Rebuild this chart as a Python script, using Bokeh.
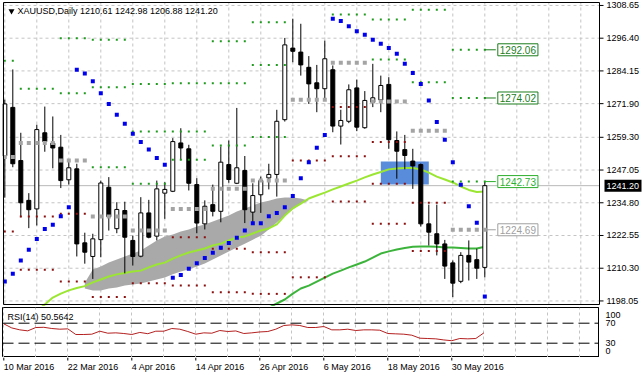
import numpy as np
from bokeh.plotting import figure
from bokeh.models import Range1d, FixedTicker, Span, Label
from bokeh.layouts import column
from bokeh.embed import file_html
from bokeh.resources import INLINE
from bokeh.core.properties import value

# ---------------- data ----------------
opens = [1252.4, 1270.5, 1250.6, 1235.7, 1232.5, 1261.0, 1257.1, 1255.6, 1243.4, 1247.5,
         1219.8, 1214.7, 1221.0, 1240.6, 1225.1, 1231.9, 1220.7, 1214.8, 1231.0, 1222.3,
         1238.4, 1239.1, 1257.2, 1255.0, 1241.6, 1226.9, 1234.1, 1231.6, 1249.1, 1242.1,
         1246.9, 1231.3, 1237.8, 1244.1, 1245.4, 1265.9, 1292.7, 1291.2, 1285.5, 1279.7,
         1277.5, 1284.6, 1263.5, 1265.3, 1277.8, 1262.9, 1272.4, 1273.3, 1279.1, 1258.1,
         1254.7, 1250.4, 1249.1, 1226.9, 1223.2, 1219.4, 1212.3, 1205.4, 1215.1, 1213.5,
         1210.61]
highs = [1273.4, 1284.7, 1261.0, 1238.4, 1264.0, 1270.8, 1267.1, 1260.2, 1250.4, 1249.4,
         1223.6, 1223.2, 1243.1, 1244.4, 1235.0, 1235.2, 1222.5, 1236.9, 1235.9, 1243.1,
         1242.5, 1259.0, 1262.7, 1256.5, 1244.0, 1235.7, 1241.6, 1255.9, 1258.1, 1270.3,
         1252.3, 1242.1, 1244.6, 1249.4, 1269.6, 1296.5, 1303.7, 1301.8, 1289.7, 1286.4,
         1295.5, 1286.2, 1269.6, 1279.1, 1280.9, 1276.6, 1286.8, 1282.4, 1281.8, 1261.5,
         1260.2, 1255.0, 1249.5, 1234.1, 1234.1, 1220.9, 1213.2, 1216.3, 1220.7, 1217.6,
         1242.98]
lows = [1236.7, 1248.1, 1229.4, 1225.3, 1226.3, 1253.9, 1247.7, 1240.3, 1241.6, 1214.7,
        1212.0, 1206.3, 1214.4, 1224.4, 1223.4, 1208.4, 1211.3, 1214.4, 1221.5, 1220.7,
        1228.8, 1238.8, 1250.8, 1239.4, 1223.4, 1224.8, 1229.7, 1227.5, 1242.3, 1241.8,
        1227.2, 1227.3, 1231.0, 1239.8, 1237.1, 1265.2, 1287.4, 1282.4, 1271.8, 1268.7,
        1273.3, 1261.2, 1256.6, 1264.6, 1261.6, 1262.5, 1270.6, 1268.7, 1255.0, 1243.8,
        1247.3, 1240.0, 1225.9, 1218.8, 1215.1, 1206.3, 1199.5, 1204.7, 1205.7, 1206.3,
        1206.88]
closes = [1271.8, 1249.4, 1234.8, 1232.2, 1262.2, 1257.7, 1255.3, 1243.1, 1247.9, 1219.4,
          1216.3, 1221.3, 1242.2, 1229.6, 1232.3, 1221.9, 1214.7, 1231.0, 1221.9, 1240.0,
          1239.8, 1257.7, 1255.3, 1242.1, 1227.2, 1233.5, 1231.6, 1250.0, 1243.5, 1247.9,
          1232.2, 1237.5, 1243.1, 1245.4, 1265.3, 1293.9, 1291.5, 1286.4, 1279.3, 1277.5,
          1288.7, 1263.5, 1265.6, 1277.1, 1263.1, 1273.1, 1274.1, 1278.7, 1258.4, 1254.1,
          1252.5, 1248.6, 1226.9, 1223.8, 1219.4, 1211.1, 1204.7, 1215.1, 1212.6, 1210.3,
          1241.20]

# Parabolic SAR
sar = [1205.3, 1208.2, 1213.2, 1217.2, 1221.2, 1225.0, 1226.6, 1229.8, 1233.1, 1284.6,
       1283.2, 1280.3, 1275.8, 1271.8, 1267.7, 1264.4, 1260.6, 1257.5, 1254.7, 1251.6,
       1249.0, 1206.7, 1207.8, 1210.1, 1212.2, 1214.1, 1216.1, 1218.0, 1219.7, 1221.7,
       1224.4, 1227.1, 1227.1, 1229.8, 1231.0, 1233.1, 1237.3, 1244.0, 1250.0, 1255.4,
       1260.2, 1303.7, 1302.8, 1300.9, 1299.0, 1297.7, 1295.8, 1294.3, 1292.7, 1290.6,
       1286.8, 1283.4, 1279.3, 1273.1, 1265.0, 1258.4, 1250.0, 1241.5, 1233.5, 1227.3,
       1199.7]

# moving averages (None = off the chart)
ma_fast = [None, None, None, None, 1194.5, 1196.7, 1199.3, 1200.8, 1202.0, 1202.9,
           1203.6, 1205.0, 1206.1, 1207.2, 1208.0, 1208.5, 1209.1, 1209.4, 1210.6, 1211.7,
           1212.4, 1213.9, 1215.1, 1216.2, 1216.9, 1217.7, 1218.8, 1219.5, 1220.7, 1221.8,
           1222.2, 1223.3, 1224.4, 1225.2, 1226.7, 1230.0, 1232.7, 1234.5, 1236.4, 1237.5,
           1238.6, 1239.8, 1240.9, 1242.0, 1243.1, 1244.3, 1245.4, 1246.3, 1247.3, 1247.6,
           1247.8, 1247.8, 1247.3, 1246.1, 1244.6, 1243.5, 1242.4, 1240.9, 1239.6, 1238.8,
           1239.0]
ma_slow = [None] * 33 + [1195.5, 1197.1, 1198.6, 1200.8, 1202.7, 1203.8, 1205.3,
           1206.8, 1208.3, 1209.4, 1210.6, 1211.7, 1212.8, 1214.3, 1215.8, 1216.6, 1217.3,
           1217.9, 1218.3, 1218.4, 1218.4, 1218.3, 1218.1, 1218.1, 1217.9, 1217.7, 1217.7,
           1218.3]

# grey band (index 10 .. 38)
band_start = 10
band_upper = [1204.9, 1209.8, 1210.9, 1212.4, 1213.6, 1214.7, 1215.8, 1216.9, 1218.8, 1220.7,
              1222.2, 1222.9, 1224.0, 1224.8, 1225.9, 1226.7, 1227.8, 1228.9, 1230.0, 1231.5,
              1232.7, 1233.8, 1234.9, 1235.6, 1236.4, 1236.8, 1236.8, 1236.4, 1235.6]
band_lower = [1202.7, 1202.0, 1202.0, 1202.7, 1203.1, 1203.8, 1204.2, 1204.6, 1205.3, 1206.1,
              1206.8, 1208.0, 1209.1, 1209.8, 1210.9, 1212.1, 1213.6, 1215.1, 1216.6, 1218.1,
              1219.5, 1221.0, 1222.5, 1224.8, 1227.4, 1230.0, 1232.3, 1234.5, 1235.6]

# blue zone
zone_start, zone_end = 47, 53
zone_low, zone_high = 1241.6, 1250.2

# weekly pivot levels
week_start = [0, 2, 7, 11, 16, 21, 26, 31, 36, 41, 46, 51, 56]
week_end = [1, 6, 10, 15, 20, 25, 30, 35, 40, 45, 50, 55, 60]
r3 = [None, None, None, 1295.8, 1279.3, 1279.5, 1295.3, 1302.4, None, None, None, None, 1292.06]
r2 = [None, None, 1296.4, 1278.0, 1261.5, 1261.5, 1279.5, 1286.4, None, None, 1303.4, 1307.0, 1274.02]
r1 = [1288.0, 1277.5, 1275.8, 1248.1, 1241.9, 1250.9, 1256.2, 1259.4, None, 1305.3, 1288.4, 1279.9, 1242.73]
pivot = [1251.9, 1257.2, 1250.6, 1229.7, 1224.4, 1232.5, 1240.0, 1243.1, 1273.4, 1287.2, 1272.7, 1261.8, 1224.69]
s1 = [1224.0, 1229.7, 1230.7, 1199.5, 1204.7, 1221.9, 1217.6, 1216.3, 1250.6, 1270.6, 1257.5, 1234.8, None]
s2 = [None, 1209.7, 1205.3, None, None, 1203.8, 1201.3, 1200.7, 1206.9, 1252.2, 1241.9, 1216.7, None]
s3 = [None, None, None, None, None, None, None, None, None, 1235.3, 1226.9, None, None]

# RSI(14)
rsi = [68.7, 60.5, 56.7, 54.7, 61.4, 61.8, 59.4, 58.0, 58.7, 47.4,
       47.4, 48.0, 54.0, 50.0, 50.7, 49.4, 47.4, 51.5, 49.0, 54.0,
       54.0, 59.4, 58.0, 53.4, 48.0, 50.7, 50.0, 55.4, 53.4, 54.5,
       49.4, 50.7, 52.5, 53.4, 58.0, 65.4, 66.7, 65.4, 61.4, 61.4,
       63.4, 56.7, 56.7, 58.0, 55.4, 56.7, 56.7, 56.0, 49.4, 48.7,
       48.0, 46.0, 40.0, 39.4, 38.7, 36.5, 35.0, 39.4, 38.7, 39.4,
       50.5642]

price_ticks = [1308.65, 1296.40, 1284.15, 1271.90, 1259.30, 1247.05, 1234.80, 1222.55, 1210.30, 1198.05]
date_idx = [0, 8, 16, 24, 32, 40, 48, 56]
date_labels = ["10 Mar 2016", "22 Mar 2016", "4 Apr 2016", "14 Apr 2016",
               "26 Apr 2016", "6 May 2016", "18 May 2016", "30 May 2016"]

# ---------------- styling / geometry ----------------
FONT = "Liberation Sans"
GRID = "#C4C4C4"
n = len(closes)
idx = np.arange(n)
nan = lambda a: np.array([np.nan if v is None else v for v in a], dtype=float)

px = 8.0                      # pixels per bar
ppx = 0.3743                  # price per pixel
X0 = -0.1625                  # left edge of the chart box (bar units)
X1 = X0 + 596 / px            # right edge of the chart box
Yt = 1309.76                  # top of the chart box (price)
Yb = Yt - 302 * ppx           # bottom of the chart box
grid_x = list(range(0, 75, 4))

# main panel: the frame also covers the price-scale column, drawn by hand
xr = Range1d(X0 - 1 / px, X0 - 1 / px + 642 / px)
yr = Range1d(Yt - 304 * ppx, Yt + 1 * ppx)
p = figure(frame_width=642, frame_height=305, x_range=xr, y_range=yr,
           output_backend="svg", toolbar_location=None,
           x_axis_location=None, y_axis_location=None,
           min_border_left=1, min_border_right=0, min_border_top=1, min_border_bottom=0)
p.background_fill_color = "white"
p.border_fill_color = "white"
p.outline_line_color = None
p.xgrid.visible = False
p.ygrid.visible = False

# grid
p.segment(x0=grid_x, y0=[Yb] * len(grid_x), x1=grid_x, y1=[Yt] * len(grid_x),
          line_color=GRID, line_dash="3 3", line_width=1)
p.segment(x0=[X0] * len(price_ticks), y0=price_ticks, x1=[X1] * len(price_ticks), y1=price_ticks,
          line_color=GRID, line_dash="3 3", line_width=1)

# current price line
p.segment(x0=[X0], y0=[closes[-1]], x1=[X1], y1=[closes[-1]], line_color="#B8B8B8", line_width=1)

# grey band
bx = list(range(band_start, band_start + len(band_upper)))
p.varea(x=bx, y1=band_lower, y2=band_upper, fill_color="#A9A9A9", fill_alpha=1)

# blue zone
p.quad(left=[zone_start], right=[zone_end], bottom=[zone_low], top=[zone_high],
       fill_color="#5A8CDC", line_color=None)

# moving averages
p.line(idx, nan(ma_fast), line_color="#9BE632", line_width=2)
p.line(idx, nan(ma_slow), line_color="#3CB43C", line_width=2)

# candles
o = np.array(opens); c = np.array(closes)
up = c >= o
p.segment(x0=idx, y0=lows, x1=idx, y1=highs, line_color="black", line_width=1)
p.vbar(x=idx[up], bottom=o[up], top=c[up], width=0.5, fill_color="white", line_color="black", line_width=1)
p.vbar(x=idx[~up], bottom=c[~up], top=o[~up], width=0.5, fill_color="black", line_color="black", line_width=1)

# weekly pivot dots
def level_points(levels):
    xs, ys = [], []
    for s, e, lv in zip(week_start, week_end, levels):
        if lv is None:
            continue
        for i in range(s, e + 1):
            xs.append(i)
            ys.append(lv)
    return xs, ys

for lv in (r1, r2, r3):
    xs, ys = level_points(lv)
    p.scatter(xs, ys, marker="square", size=2, fill_color="#1E9B1E", line_color=None)
for lv in (s1, s2, s3):
    xs, ys = level_points(lv)
    p.scatter(xs, ys, marker="square", size=2, fill_color="#8B1010", line_color=None)
xs, ys = level_points(pivot)
p.scatter(xs, ys, marker="square", size=4, fill_color="#A4A4A4", line_color=None)

# parabolic SAR
p.scatter(idx, sar, marker="square", size=4, fill_color="#0000F0", line_color=None)

# labels of the current week levels
tag_x = n - 1 + 11 / px
for lv, col in ((r3[-1], "#1B7D1B"), (r2[-1], "#1B7D1B"), (r1[-1], "#2DAF2D"), (pivot[-1], "#A0A0A0")):
    p.segment(x0=[n - 1], y0=[lv], x1=[tag_x], y1=[lv], line_color=col, line_width=1)
    p.add_layout(Label(x=tag_x + 2 / px, y=lv, text=f"{lv:.2f}", text_font=FONT,
                       text_font_size="10px", text_color=col, text_baseline="middle",
                       text_align="left", background_fill_color="white",
                       border_line_color=col, border_line_width=1, padding=2))

# chart box border
p.quad(left=[X0], right=[X1], bottom=[Yb], top=[Yt], fill_color=None, line_color="black", line_width=1)

# price scale (right column)
p.segment(x0=[X1] * len(price_ticks), y0=price_ticks, x1=[X1 + 4 / px] * len(price_ticks), y1=price_ticks,
          line_color="black", line_width=1)
p.text(x=[X1 + 7 / px] * len(price_ticks), y=price_ticks, text=[f"{t:.2f}" for t in price_ticks],
       text_align="left", text_baseline="middle", text_font=value(FONT), text_font_size="9px",
       text_color="black")
# current price tag
p.quad(left=[X1 + 5 / px], right=[X1 + 42 / px], bottom=[closes[-1] - 6 * ppx], top=[closes[-1] + 6 * ppx],
       fill_color="black", line_color=None)
p.text(x=[X1 + 7 / px], y=[closes[-1]], text=[f"{closes[-1]:.2f}"], text_align="left",
       text_baseline="middle", text_font=value(FONT), text_font_size="9px", text_color="white")

# title
p.scatter([X0 + 8 / px], [Yt - 8.5 * ppx], marker="inverted_triangle", size=6,
          fill_color="black", line_color=None)
p.add_layout(Label(x=X0 + 14 / px, y=Yt - 8 * ppx,
                   text=f"XAUUSD,Daily  {opens[-1]:.2f} {highs[-1]:.2f} {lows[-1]:.2f} {closes[-1]:.2f}",
                   text_font=FONT, text_font_size="9px", text_color="black", text_baseline="middle"))

# ---------------- RSI panel ----------------
xr2 = Range1d(X0, X1)
r = figure(frame_width=596, frame_height=50, x_range=xr2, y_range=Range1d(1.4, 101.4),
           output_backend="svg", toolbar_location=None,
           x_axis_location=None, y_axis_location="right",
           min_border_left=2, min_border_right=45, min_border_top=1, min_border_bottom=0)
r.outline_line_color = "black"
r.outline_line_alpha = 1
rax = r.yaxis[0]
rax.ticker = FixedTicker(ticks=[87, 70, 30, 15])
rax.major_label_overrides = {87: "100", 70: "70", 30: "30", 15: "0"}
rax.major_tick_out = 0
rax.major_tick_in = 0
rax.minor_tick_out = 0
rax.minor_tick_in = 0
rax.axis_line_color = "black"
rax.major_label_standoff = 7
rax.major_label_text_font = FONT
rax.major_label_text_font_size = "9px"
rax.major_label_text_color = "black"
r.ygrid.visible = False
r.xgrid.ticker = FixedTicker(ticks=grid_x)
r.xgrid.grid_line_color = GRID
r.xgrid.grid_line_dash = "3 3"
for lvl in (70, 30):
    r.add_layout(Span(location=lvl, dimension="width", line_color="black", line_dash="11 5", line_width=1))
r.line(idx, rsi, line_color="#B42020", line_width=1)
r.add_layout(Label(x=X0 + 5 / px, y=83.4, text=f"RSI(14) {rsi[-1]:.4f}", text_font=FONT,
                   text_font_size="9px", text_color="black", text_baseline="middle"))

# ---------------- date labels ----------------
d = figure(frame_width=596, frame_height=21, x_range=xr2, y_range=Range1d(0, 21),
           output_backend="svg", toolbar_location=None,
           x_axis_location=None, y_axis_location=None,
           min_border_left=2, min_border_right=45, min_border_top=0, min_border_bottom=0)
d.outline_line_color = None
d.xgrid.visible = False
d.ygrid.visible = False
d.segment(x0=date_idx, y0=[21] * len(date_idx), x1=date_idx, y1=[18] * len(date_idx),
          line_color="black", line_width=1)
d.text(x=date_idx, y=[11.5] * len(date_idx), text=date_labels, text_align="left",
       text_baseline="middle", text_font=value(FONT), text_font_size="9px", text_color="black")

layout = column(p, r, d, spacing=0)
open("out.html", "w").write(file_html(layout, INLINE))
